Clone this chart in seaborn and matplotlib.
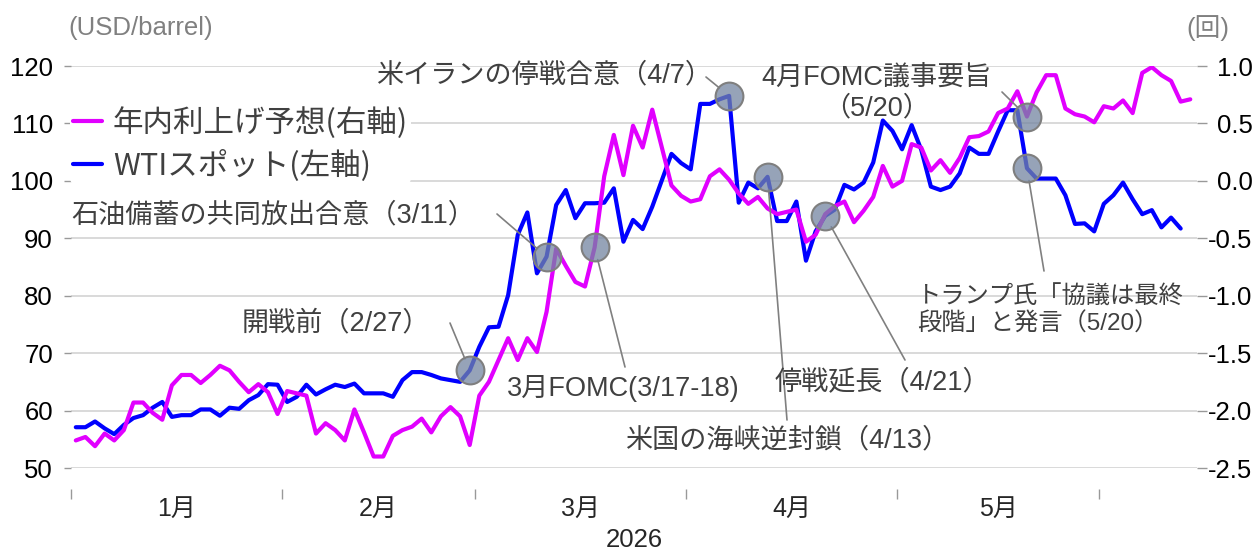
import numpy as np
import pandas as pd
import matplotlib
matplotlib.use("Agg")
import matplotlib.pyplot as plt
import seaborn as sns

# business days Jan 1 - Jun 12 2026
dates = pd.bdate_range("2026-01-01", periods=117)

# WTI spot (USD/barrel, left axis) - last day not yet available
wti = [57.1, 57.1, 58.1, 56.9, 55.9, 57.5, 58.7, 59.2, 60.5, 61.5,
       58.9, 59.2, 59.2, 60.2, 60.2, 59.1, 60.5, 60.3, 61.8, 62.7,
       64.6, 64.5, 61.5, 62.4, 64.5, 62.8, 63.7, 64.5, 64.1, 64.7,
       63.0, 63.0, 63.0, 62.4, 65.3, 66.7, 66.7, 66.2, 65.6, 65.3,
       65.0, 67.0, 71.1, 74.5, 74.6, 80.1, 90.6, 94.5, 83.9, 86.8,
       95.8, 98.4, 93.5, 96.1, 96.1, 96.2, 98.7, 89.4, 93.2, 91.6,
       95.5, 100.1, 104.7, 103.1, 102.0, 113.4, 113.4, 114.2, 114.8, 96.2,
       99.7, 98.7, 100.7, 93.0, 93.0, 96.4, 86.1, 91.2, 93.9, 95.0,
       99.3, 98.5, 99.7, 103.2, 110.5, 108.7, 105.5, 109.7, 105.4, 99.0,
       98.4, 99.0, 101.3, 105.8, 104.7, 104.7, 108.6, 112.3, 112.3, 102.2,
       100.4, 100.4, 100.4, 97.5, 92.5, 92.6, 91.2, 96.0, 97.5, 99.7,
       96.8, 94.2, 94.9, 91.9, 93.6, 91.7, np.nan]

# expected number of hikes within the year (right axis)
hikes = [-2.26, -2.23, -2.31, -2.20, -2.26, -2.17, -1.93, -1.93, -2.02, -2.08,
         -1.78, -1.69, -1.69, -1.76, -1.69, -1.61, -1.65, -1.75, -1.84, -1.77,
         -1.84, -2.03, -1.83, -1.85, -1.87, -2.20, -2.11, -2.17, -2.26, -1.99,
         -2.19, -2.40, -2.40, -2.22, -2.17, -2.14, -2.07, -2.19, -2.05, -1.97,
         -2.05, -2.30, -1.87, -1.75, -1.56, -1.37, -1.56, -1.37, -1.49, -1.14,
         -0.59, -0.74, -0.88, -0.92, -0.58, 0.04, 0.40, 0.05, 0.48, 0.29,
         0.62, 0.29, -0.04, -0.13, -0.18, -0.16, 0.04, 0.10, 0.01, -0.11,
         -0.20, -0.14, -0.24, -0.29, -0.27, -0.25, -0.53, -0.47, -0.29, -0.22,
         -0.18, -0.36, -0.26, -0.14, 0.13, -0.05, 0.00, 0.32, 0.29, 0.09,
         0.18, 0.07, 0.20, 0.38, 0.39, 0.43, 0.59, 0.63, 0.78, 0.56,
         0.77, 0.92, 0.92, 0.63, 0.58, 0.56, 0.51, 0.65, 0.63, 0.70,
         0.59, 0.94, 0.99, 0.92, 0.87, 0.69, 0.71]

left_ticks = [50, 60, 70, 80, 90, 100, 110, 120]
right_ticks = [-2.5, -2.0, -1.5, -1.0, -0.5, 0.0, 0.5, 1.0]
month_names = ["1月", "2月", "3月", "4月", "5月"]

# events: label, date, series the marker sits on
events = [
    ("開戦前（2/27）", "2026-02-27", "wti"),
    ("石油備蓄の共同放出合意（3/11）", "2026-03-11", "wti"),
    ("3月FOMC(3/17-18)", "2026-03-18", "hikes"),
    ("米イランの停戦合意（4/7）", "2026-04-07", "wti"),
    ("米国の海峡逆封鎖（4/13）", "2026-04-13", "wti"),
    ("停戦延長（4/21）", "2026-04-21", "wti"),
    ("4月FOMC議事要旨\n（5/20）", "2026-05-20", "hikes"),
    ("トランプ氏「協議は最終\n段階」と発言（5/20）", "2026-05-20", "wti"),
]
# text placement (figure pixels from top-left), alignment, leader start, size
ev_layout = [
    ((430, 323), "right", (450, 323), 19.5),
    ((475, 215), "right", (497, 214), 19.5),
    ((507, 388), "left", (625, 367), 19.5),
    ((712, 75), "right", (706, 77), 19.5),
    ((625, 440), "left", (787, 420), 19.5),
    ((775, 383), "left", (905, 360), 19.5),
    ((877, 93), "center", (1002, 92), 19.5),
    ((917, 311), "left", (1044, 271), 17.5),
]

sns.set_style("white")
plt.rcParams["font.family"] = ["Liberation Sans", "Noto Sans CJK JP"]
W, H = 1260, 554
fig = plt.figure(figsize=(W / 100, H / 100), dpi=100)
ax = fig.add_axes([71 / W, 1 - 468 / H, (1197 - 71) / W, (468 - 66) / H])
ax2 = ax.twinx()

x = np.arange(len(dates))
blue = "#0000FF"
magenta = "#E100FF"
sns.lineplot(x=x, y=wti, ax=ax, color=blue, lw=3, label="WTIスポット(左軸)", legend=False)
sns.lineplot(x=x, y=hikes, ax=ax2, color=magenta, lw=3, label="年内利上げ予想(右軸)", legend=False)

# axes
ax.set_ylim(50, 120)
ax2.set_ylim(-2.5, 1.0)
ax.set_xlim(-0.5, 116.7)
ax.set_yticks(left_ticks)
ax.set_yticklabels([str(t) for t in left_ticks])
ax2.set_yticks(right_ticks)
ax2.set_yticklabels([f"{t:.1f}" for t in right_ticks])
ax.grid(axis="y", color="#d0d0d0", lw=1.1)
ax.grid(axis="x", visible=False)
for a in (ax, ax2):
    for s in a.spines.values():
        s.set_visible(False)
ax.spines["bottom"].set_position(("outward", 15))
ax.tick_params(axis="y", which="both", left=True, length=5, width=1, color="#999999",
               pad=8, labelsize=18.5, labelcolor="black")
ax2.tick_params(axis="y", right=True, length=7, width=1, color="#999999",
                pad=33, labelsize=18.5, labelcolor="black")
for lab in ax2.get_yticklabels():
    lab.set_ha("right")

month = dates.month
bounds = [-0.5] + [i - 0.5 for i in range(1, len(dates)) if month[i] != month[i - 1]]
centers = [(bounds[k] + bounds[k + 1]) / 2 for k in range(len(month_names))]
ax.set_xticks(bounds)
ax.set_xticklabels([""] * len(bounds))
ax.set_xticks(centers, minor=True)
ax.set_xticklabels(month_names, minor=True)
ax.tick_params(axis="x", which="major", bottom=True, length=7, width=1, color="#999999")
ax.tick_params(axis="x", which="minor", bottom=True, length=0, pad=6, labelsize=18)
ax.set_xlabel("2026", fontsize=18.5, labelpad=5)

fig.text(68 / W, 1 - 28 / H, "(USD/barrel)", fontsize=18.5, color="#808080",
         ha="left", va="center")
fig.text(1208 / W, 1 - 28 / H, "(回)", fontsize=18.5, color="#808080",
         ha="center", va="center")

# event markers, leader lines and labels
series = {"wti": (wti, ax), "hikes": (hikes, ax2)}
for (label, d, key), ((tx, ty), ha, (lx, ly), fs) in zip(events, ev_layout):
    vals, a = series[key]
    i = dates.get_loc(pd.Timestamp(d))
    ax2.annotate("", xy=(i, vals[i]), xycoords=a.transData,
                 xytext=(lx, H - ly), textcoords="figure pixels",
                 arrowprops=dict(arrowstyle="-", color="#808080", lw=1.2,
                                 shrinkA=0, shrinkB=9), zorder=4)
    ax2.plot([i], [vals[i]], marker="o", ms=20, transform=a.transData,
             mfc=(0.45, 0.52, 0.63, 0.75), mec="#7f7f7f", mew=1.5, zorder=5,
             clip_on=False)
    fig.text(tx / W, 1 - ty / H, label, ha=ha, va="center", fontsize=fs,
             color="#404040", linespacing=1.2)

handles = ax2.get_lines()[:1] + ax.get_lines()[:1]
leg = ax2.legend(handles, [h.get_label() for h in handles], loc="center left",
                 bbox_to_anchor=(70 / W, 1 - 144 / H), bbox_transform=fig.transFigure,
                 frameon=True, facecolor="white", edgecolor="none", framealpha=1,
                 fontsize=22, handlelength=0.95, handletextpad=0.35,
                 labelspacing=0.35, borderpad=0.1, borderaxespad=0)
for t in leg.get_texts():
    t.set_color("#404040")
    t.set_family(["Noto Sans CJK JP"])

fig.savefig("out.png", dpi=100)
